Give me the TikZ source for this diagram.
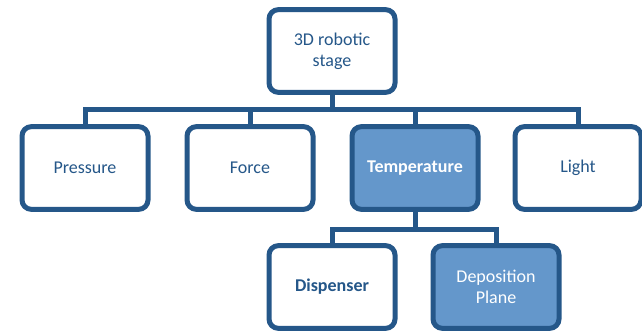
\documentclass[tikz,border=0pt]{standalone}
\usepackage{fontspec}
\setmainfont{Carlito}
\definecolor{edgeblue}{HTML}{255789}
\definecolor{fillblue}{HTML}{6497CB}
\begin{document}
\begin{tikzpicture}[x=0.75pt,y=-0.75pt,
			box/.style={
				draw=edgeblue,
				line width=3.75pt,
				rounded corners=7pt,
				fill=white,
				minimum width=94.5pt,
				minimum height=62pt,
				align=center,
				text=edgeblue,
				font=\fontsize{13.5}{15.5}\selectfont
			},
			hot/.style={
				box,
				fill=fillblue,
				text=white
			},
			conn/.style={
				draw=edgeblue,
				line width=3.75pt
			}
			]
			\useasboundingbox (0,0) rectangle (642,335);
			%---------------- TOP ----------------
			\node[box] (stage) at (332,51) {3D robotic\\stage};
			%---------------- ROW 1 ----------------
			\node[box] (pres) at (85,168) {Pressure};
			\node[box] (force) at (250,168) {Force};
			\node[hot] (temp) at (415,168) {\bfseries Temperature};
			\node[box] (light) at (578,168) {Light};
			%---------------- ROW 2 ----------------
			\node[box] (disp) at (332,287) {\bfseries Dispenser};
			\node[hot] (plane) at (496,287) {Deposition\\Plane};
			%---------------- LINKS ----------------
			\foreach \n in {pres,force,temp,light}
				\draw[conn] (stage.south) -- ++(0,15) -| (\n.north);
			\foreach \n in {disp,plane}
				\draw[conn] (temp.south) -- ++(0,18) -| (\n.north);
		\end{tikzpicture}
\end{document}
